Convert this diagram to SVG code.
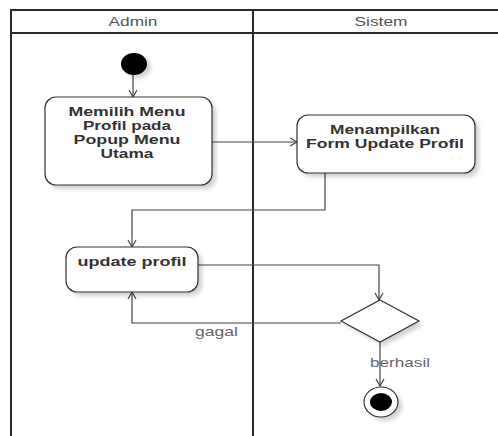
<svg xmlns="http://www.w3.org/2000/svg" width="498" height="436" viewBox="0 0 498 436">
  <style>
    .lane { fill: none; stroke: #2a2a2a; stroke-width: 2; }
    .lane-title { font-family: "Liberation Sans", Arial, sans-serif; font-size: 13px; fill: #555; text-anchor: middle; }
    .act { fill: #fff; stroke: #333; stroke-width: 1.2; }
    .act-label { font-family: "Liberation Sans", Arial, sans-serif; font-size: 13px; font-weight: bold; fill: #333; text-anchor: middle; }
    .act-label.tight { font-size: 12px; }
    .flow { fill: none; stroke: #444; stroke-width: 1.2; marker-end: url(#open-arrow); }
    .guard { font-family: "Liberation Sans", Arial, sans-serif; font-size: 13px; fill: #666; }
    .shadow { fill: #000; opacity: 0.18; filter: url(#soft); }
  </style>
  <defs>
    <marker id="open-arrow" markerWidth="10" markerHeight="10" refX="8" refY="5" orient="auto" markerUnits="userSpaceOnUse">
      <path d="M1,1 L8,5 L1,9" fill="none" stroke="#444" stroke-width="1.2"/>
    </marker>
    <filter id="soft" x="-20%" y="-20%" width="140%" height="140%">
      <feGaussianBlur stdDeviation="2"/>
    </filter>
  </defs>

  <rect width="498" height="436" fill="#fff"/>

  <!-- swimlanes -->
  <g id="lanes">
    <path class="lane" d="M11,436 V10 H498 M11,33 H498 M253,10 V436"/>
    <text class="lane-title" x="133" y="26" textLength="49" lengthAdjust="spacingAndGlyphs">Admin</text>
    <text class="lane-title" x="381" y="26" textLength="53" lengthAdjust="spacingAndGlyphs">Sistem</text>
  </g>

  <!-- connectors -->
  <g id="connectors">
    <path class="flow" d="M133,75 V97"/>
    <path class="flow" d="M212,142 H297"/>
    <path class="flow" d="M325,173 V210 H132 V247"/>
    <path class="flow" d="M198,265 H379 V300"/>
    <path class="flow" d="M341,323 H132 V292"/>
    <path class="flow" d="M380,342 V386"/>
    <text class="guard" x="195" y="336" textLength="43" lengthAdjust="spacingAndGlyphs">gagal</text>
    <text class="guard" x="370" y="367" textLength="60" lengthAdjust="spacingAndGlyphs">berhasil</text>
  </g>

  <g id="start">
    <ellipse class="shadow" cx="138" cy="67" rx="13" ry="11"/>
    <ellipse cx="134" cy="64" rx="13" ry="11" fill="#000"/>
  </g>

  <g id="pilih-menu">
    <rect class="shadow" x="49" y="101" width="167" height="88" rx="11"/>
    <rect class="act" x="45" y="97" width="167" height="88" rx="11"/>
    <text class="act-label tight" x="127" y="116" textLength="117" lengthAdjust="spacingAndGlyphs">Memilih Menu</text>
    <text class="act-label tight" x="127" y="130" textLength="88" lengthAdjust="spacingAndGlyphs">Profil pada</text>
    <text class="act-label tight" x="127" y="144" textLength="107" lengthAdjust="spacingAndGlyphs">Popup Menu</text>
    <text class="act-label tight" x="127" y="158" textLength="53" lengthAdjust="spacingAndGlyphs">Utama</text>
  </g>

  <g id="form-update">
    <rect class="shadow" x="301" y="119" width="178" height="58" rx="11"/>
    <rect class="act" x="297" y="115" width="178" height="58" rx="11"/>
    <text class="act-label tight" x="385" y="134" textLength="110" lengthAdjust="spacingAndGlyphs">Menampilkan</text>
    <text class="act-label tight" x="385" y="148" textLength="158" lengthAdjust="spacingAndGlyphs">Form Update Profil</text>
  </g>

  <g id="update-profil">
    <rect class="shadow" x="70" y="251" width="132" height="45" rx="11"/>
    <rect class="act" x="66" y="247" width="132" height="45" rx="11"/>
    <text class="act-label" x="132" y="266" textLength="109" lengthAdjust="spacingAndGlyphs">update profil</text>
  </g>

  <g id="decision">
    <polygon class="shadow" points="384,304 423,325 384,346 345,325"/>
    <polygon class="act" points="380,300 419,321 380,342 341,321"/>
  </g>

  <g id="end">
    <ellipse class="shadow" cx="385" cy="406" rx="17" ry="15"/>
    <ellipse cx="381" cy="402" rx="17" ry="15" fill="#fff" stroke="#333" stroke-width="1.2"/>
    <ellipse cx="381" cy="402" rx="11" ry="9" fill="#000"/>
  </g>
</svg>
